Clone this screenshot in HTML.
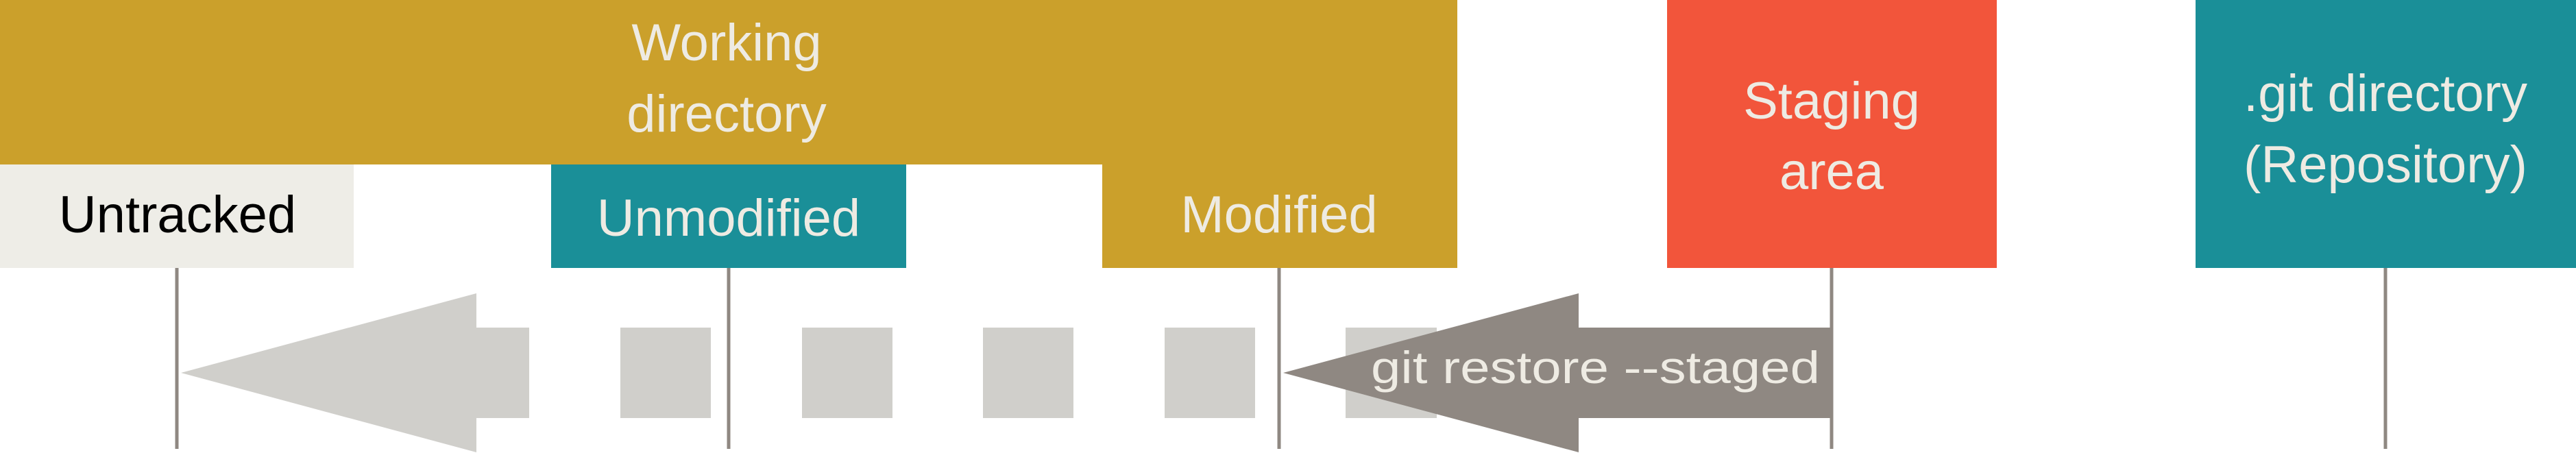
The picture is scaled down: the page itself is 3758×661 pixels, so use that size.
<!DOCTYPE html>
<html><head><meta charset="utf-8"><style>
html,body{margin:0;padding:0;background:#fff;}
svg{display:block;}
text{font-family:"Liberation Sans",sans-serif;}
</style></head><body>
<svg width="3758" height="661" viewBox="0 0 3758 661" xmlns="http://www.w3.org/2000/svg">
<rect x="0" y="0" width="2126" height="240" fill="#CBA02B"/>
<rect x="0" y="240" width="516" height="151" fill="#EEEDE7"/>
<rect x="804" y="240" width="518" height="151" fill="#1A8F98"/>
<rect x="1608" y="240" width="518" height="151" fill="#CBA02B"/>
<rect x="2432" y="0" width="481" height="391" fill="#F2553B"/>
<rect x="3203" y="0" width="555" height="391" fill="#1A8F98"/>
<g font-size="76" fill="#EEEBE3" text-anchor="middle">
<text x="1060" y="88">Working</text>
<text x="1060" y="192">directory</text>
<text x="259" y="339" fill="#000">Untracked</text>
<text x="1063" y="344">Unmodified</text>
<text x="1866" y="339">Modified</text>
<text x="2672" y="173">Staging</text>
<text x="2672" y="276">area</text>
<text x="3480" y="162">.git directory</text>
<text x="3480" y="266">(Repository)</text>
</g>
<g fill="#D0CFCB">
<polygon points="264,544 695,428 695,478 772,478 772,610 695,610 695,660"/>
<rect x="905" y="478" width="132" height="132"/>
<rect x="1170" y="478" width="132" height="132"/>
<rect x="1434" y="478" width="132" height="132"/>
<rect x="1699" y="478" width="132" height="132"/>
<rect x="1963" y="478" width="133" height="132"/>
</g>
<polygon points="1872,544 2303,428 2303,478 2672,478 2672,610 2303,610 2303,660" fill="#8F8882"/>
<text x="2000" y="559" font-size="66" fill="#EEEBE3" textLength="655" lengthAdjust="spacingAndGlyphs">git  restore --staged</text>
<g stroke="#8F8882" stroke-width="5">
<line x1="258" y1="391" x2="258" y2="655"/>
<line x1="1063" y1="391" x2="1063" y2="655"/>
<line x1="1866" y1="391" x2="1866" y2="655"/>
<line x1="2672" y1="391" x2="2672" y2="655"/>
<line x1="3480" y1="391" x2="3480" y2="655"/>
</g>
</svg>
</body></html>
